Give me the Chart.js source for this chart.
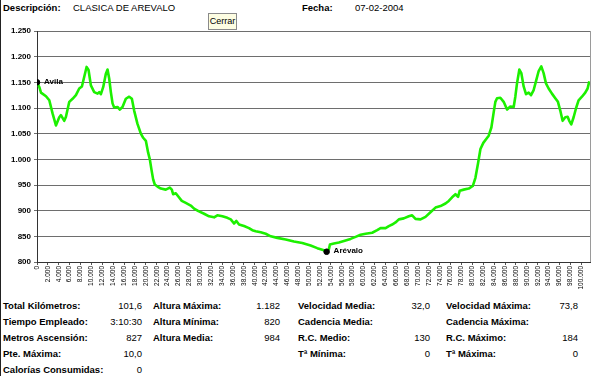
<!DOCTYPE html>
<html><head><meta charset="utf-8">
<script src="https://cdn.jsdelivr.net/npm/chart.js@4/dist/chart.umd.min.js"></script>
<style>
html,body{margin:0;padding:0;background:#fff;}
body{width:600px;height:376px;position:relative;overflow:hidden;font-family:"Liberation Sans",Arial,sans-serif;color:#000;}
#frame{position:absolute;left:0;top:0;width:1px;height:376px;background:#222;}
.t{position:absolute;font-size:9.5px;white-space:nowrap;line-height:12px;}
.b{font-weight:bold;}
.r{text-align:right;}
#cerrar{position:absolute;left:208px;top:13px;width:27px;height:15px;border:1px solid #8a8a8a;background:#fdfde2;font-size:9px;line-height:15px;text-align:center;}
#wrap{position:absolute;left:0;top:20px;width:600px;height:272px;}
</style></head>
<body>
<div id="frame"></div>
<div class="t b" style="left:3px;top:2px;">Descripción:</div>
<div class="t" style="left:73px;top:2px;">CLASICA DE AREVALO</div>
<div class="t b" style="left:302px;top:2px;">Fecha:</div>
<div class="t" style="left:355px;top:2px;">07-02-2004</div>
<div id="cerrar">Cerrar</div>
<div id="wrap"><canvas id="c" width="600" height="272"></canvas></div>
<div id="stats"></div>
<script>
// ---- profile data (distance in km, elevation in m) ----
const distanceKm = [0,0.42,0.73,1.65,2.26,2.87,3.48,4.09,4.40,5.01,5.32,5.93,6.54,7.15,7.76,8.25,8.68,9.11,9.47,9.90,
10.51,11.13,11.43,11.74,12.17,12.66,12.96,13.27,13.57,13.88,14.18,14.79,15.22,15.71,16.32,16.94,17.43,17.85,18.46,19.08,
19.51,20.0,20.42,20.73,21.03,21.34,21.64,22.13,22.75,23.66,24.40,24.77,25.01,25.50,25.93,26.60,27.33,28.25,28.86,29.66,
30.70,31.61,32.53,33.14,34.06,34.97,35.60,36.20,36.63,37.12,38.04,38.95,39.56,40.18,41.10,42.02,42.94,44.15,45.69,47.21,
48.74,50.27,51.49,52.72,53.21,53.63,53.82,54.55,55.47,56.70,57.61,58.53,59.45,60.37,61.58,62.50,63.12,64.04,64.64,65.25,
65.87,66.48,67.39,68.31,68.92,69.54,70.46,71.38,72.29,73.21,74.13,75.05,75.65,76.26,76.88,77.36,77.67,78.40,79.32,80.06,
80.55,81.04,81.47,82.00,82.50,82.99,83.48,83.91,84.21,84.52,85.13,85.74,86.36,86.97,87.58,87.88,88.19,88.62,88.98,89.41,
89.84,90.33,90.76,91.25,91.67,92.17,92.65,93.08,93.51,94.00,94.61,95.22,95.71,96.14,96.57,97.06,97.49,97.79,98.16,98.59,
99.02,99.50,100.12,100.73,101.16,101.47];
const elevationM = [1150,1141,1130,1123,1115,1089,1066,1082,1086,1075,1083,1112,1118,1125,1138,1142,1161,1180,1174,1144,
1131,1128,1131,1127,1141,1167,1175,1157,1131,1109,1101,1102,1097,1102,1118,1122,1118,1095,1069,1050,
1042,1036,1013,1000,980,961,951,947,943,941,945,941,932,934,928,919,915,910,904,899,
894,889,887,891,889,886,883,875,880,873,870,866,862,860,858,855,850,847,844,840,
837,832,827,823,820,825,834,836,838,842,845,849,853,855,857,862,866,866,870,873,
877,883,885,889,891,884,883,888,897,906,909,914,919,926,932,927,939,941,943,948,
964,993,1020,1032,1039,1046,1062,1092,1112,1119,1120,1112,1097,1103,1102,1122,1148,1175,1168,1142,
1127,1130,1125,1135,1152,1172,1181,1168,1148,1138,1128,1119,1112,1095,1075,1082,1083,1075,1068,1082,
1099,1115,1122,1130,1138,1152];

// ---- named places ----
const placeNames = ["Avila","Arévalo"];
const placeKm = [0,53.21];
const placeElev = [1150,820];

// ---- axis ----
const xMinKm = 0, xMaxKm = 101.6, xStepKm = 2;
const yMin = 800, yMax = 1250, yStep = 50;

// ---- summary table ----
const col1Labels = ["Total Kilómetros:","Tiempo Empleado:","Metros Ascensión:","Pte. Máxima:","Calorías Consumidas:"];
const col1Values = ["101,6","3:10:30","827","10,0","0"];
const col2Labels = ["Altura Máxima:","Altura Mínima:","Altura Media:"];
const col2Values = ["1.182","820","984"];
const col3Labels = ["Velocidad Media:","Cadencia Media:","R.C. Medio:","Tª Mínima:"];
const col3Values = ["32,0","","130","0"];
const col4Labels = ["Velocidad Máxima:","Cadencia Máxima:","R.C.  Máximo:","Tª Máxima:"];
const col4Values = ["73,8","","184","0"];

function fmt(n){
  n = Math.round(n);
  return String(n).replace(/\B(?=(\d{3})+(?!\d))/g, ".");
}

// stats layout
const rowTops = [300,316,332,348,364];
const cols = [
  {labels:col1Labels, values:col1Values, lx:3, vr:142},
  {labels:col2Labels, values:col2Values, lx:153, vr:280},
  {labels:col3Labels, values:col3Values, lx:298, vr:430},
  {labels:col4Labels, values:col4Values, lx:446, vr:578}
];
const st = document.getElementById('stats');
cols.forEach(c=>{
  c.labels.forEach((lab,i)=>{
    const d=document.createElement('div');
    d.className='t b'; d.style.left=c.lx+'px'; d.style.top=rowTops[i]+'px'; d.textContent=lab; st.appendChild(d);
    const v=document.createElement('div');
    v.className='t r'; v.style.left=(c.vr-60)+'px'; v.style.width='60px'; v.style.top=rowTops[i]+'px'; v.textContent=c.values[i]; st.appendChild(v);
  });
});

const profile = distanceKm.map((d,i)=>({x:d,y:elevationM[i]}));
const places = placeKm.map((d,i)=>({x:d,y:placeElev[i]}));

const placeLabelPlugin = {
  id:'placeLabels',
  afterDatasetsDraw(chart){
    const meta = chart.getDatasetMeta(1);
    const ctx = chart.ctx;
    ctx.save();
    ctx.font = 'bold 8px "Liberation Sans", Arial, sans-serif';
    ctx.fillStyle = '#000';
    ctx.textBaseline = 'middle';
    meta.data.forEach((el,i)=>{
      ctx.fillText(placeNames[i], el.x + 7, el.y - 1);
    });
    ctx.restore();
  }
};
const rightBorderPlugin = {
  id:'rightBorder',
  beforeDatasetsDraw(chart){
    const a = chart.chartArea, ctx = chart.ctx;
    ctx.save();
    ctx.strokeStyle = '#9a9a9a'; ctx.lineWidth = 1;
    ctx.beginPath();
    ctx.moveTo(Math.round(a.right)+0.5, a.top);
    ctx.lineTo(Math.round(a.right)+0.5, a.bottom);
    ctx.stroke();
    ctx.restore();
  }
};

new Chart(document.getElementById('c'), {
  type:'line',
  data:{datasets:[
    {data:profile, borderColor:'#1cf000', borderWidth:2.6, pointRadius:0, tension:0, borderJoinStyle:'round', order:2},
    {data:places, showLine:false, pointRadius:2.8, pointBackgroundColor:'#000', pointBorderColor:'#000', order:1}
  ]},
  options:{
    responsive:false, animation:false, devicePixelRatio:1,
    layout:{padding:{top:11,right:10,left:0,bottom:0}},
    plugins:{legend:{display:false}, tooltip:{enabled:false}},
    scales:{
      x:{type:'linear', min:xMinKm, max:xMaxKm,
        ticks:{stepSize:xStepKm, includeBounds:false, autoSkip:false, maxRotation:90, minRotation:90,
          font:{size:6.5, family:'"Liberation Sans", Arial, sans-serif'}, color:'#000', padding:1,
          callback:v=>fmt(v*1000)},
        grid:{drawOnChartArea:false, drawTicks:true, tickLength:3, color:'#555'},
        border:{color:'#333', width:1},
        afterFit:s=>{s.height=30;}
      },
      y:{min:yMin, max:yMax,
        ticks:{stepSize:yStep, font:{size:8, weight:'bold', family:'"Liberation Sans", Arial, sans-serif'}, color:'#000', padding:3,
          callback:v=>fmt(v)},
        grid:{color:'#6e6e6e', tickLength:3},
        border:{color:'#333', width:1},
        afterFit:s=>{s.width=37;}
      }
    }
  },
  plugins:[placeLabelPlugin, rightBorderPlugin]
});
</script>
</body></html>
